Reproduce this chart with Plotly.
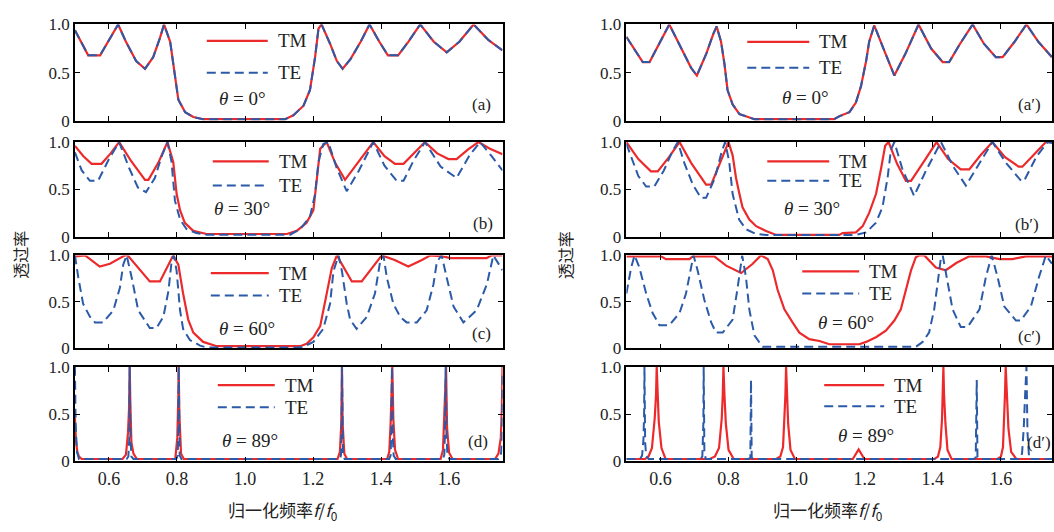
import plotly.graph_objects as go

# ---------------- data ----------------
# (a) theta = 0  (TM and TE coincide)
xa = [0.500,0.520,0.539,0.574,0.600,0.627,0.650,0.680,0.706,0.730,0.750,0.762,0.780,0.794,0.804,0.824,0.848,0.877,
      1.118,1.142,1.172,1.191,1.206,1.216,1.225,1.250,1.270,1.287,1.310,1.340,1.366,1.395,1.420,1.450,1.480,1.515,
      1.555,1.593,1.630,1.672,1.715,1.757]
ya = [0.94,0.80,0.68,0.68,0.84,1.00,0.82,0.62,0.54,0.66,0.86,1.00,0.82,0.49,0.22,0.09,0.04,0.017,
      0.017,0.057,0.157,0.32,0.66,0.957,1.00,0.80,0.62,0.54,0.64,0.82,1.00,0.82,0.68,0.68,0.82,1.00,
      0.82,0.71,0.82,1.00,0.84,0.73]
xa_tm, ya_tm = xa, ya
xa_te, ya_te = xa, ya

# (b) theta = 30
xb_tm = [0.500,0.525,0.549,0.578,0.605,0.630,0.665,0.706,0.716,0.745,0.772,0.789,0.799,0.809,0.823,0.848,0.887,
         1.123,1.152,1.181,1.201,1.211,1.221,1.240,1.265,1.294,1.335,1.377,1.410,1.441,1.466,1.495,1.529,1.565,
         1.598,1.622,1.655,1.686,1.720,1.757]
yb_tm = [0.96,0.85,0.77,0.77,0.88,1.00,0.80,0.60,0.60,0.78,1.00,0.79,0.45,0.28,0.146,0.06,0.027,
         0.027,0.06,0.146,0.28,0.62,0.93,1.00,0.78,0.60,0.80,1.00,0.85,0.77,0.77,0.88,1.00,0.88,
         0.82,0.82,0.92,1.00,0.93,0.87]
xb_te = [0.500,0.520,0.544,0.568,0.600,0.630,0.660,0.685,0.709,0.735,0.755,0.772,0.784,0.794,0.809,0.828,0.857,0.887,
         1.133,1.162,1.191,1.206,1.216,1.230,1.245,1.270,1.299,1.335,1.377,1.410,1.446,1.466,1.495,1.529,1.575,
         1.622,1.660,1.691,1.725,1.757]
yb_te = [0.89,0.70,0.59,0.59,0.82,1.00,0.72,0.52,0.47,0.62,0.85,1.00,0.79,0.38,0.18,0.08,0.037,0.02,
         0.02,0.078,0.21,0.45,0.79,0.98,1.00,0.72,0.48,0.70,1.00,0.75,0.59,0.59,0.80,1.00,0.74,
         0.62,0.86,1.00,0.85,0.70]

# (c) theta = 60
xc_tm = [0.500,0.530,0.573,0.603,0.647,0.655,0.720,0.750,0.789,0.804,0.818,0.833,0.848,0.877,0.917,
         1.162,1.181,1.201,1.221,1.240,1.255,1.270,1.314,1.343,1.402,1.440,1.480,1.520,1.545,1.580,1.605,
         1.710,1.725,1.757]
yc_tm = [0.99,1.00,0.88,0.91,1.00,1.00,0.72,0.72,1.00,0.90,0.59,0.31,0.17,0.07,0.024,
         0.024,0.05,0.12,0.24,0.59,0.86,1.00,0.72,0.72,1.00,0.95,0.88,0.95,1.00,0.99,0.97,
         0.97,1.00,1.00]
xc_te = [0.500,0.510,0.524,0.544,0.559,0.583,0.613,0.632,0.642,0.652,0.667,0.686,0.720,0.740,0.760,0.775,0.784,
         0.791,0.799,0.809,0.818,0.838,0.868,0.887,1.162,1.181,1.201,1.230,1.250,1.260,1.275,1.285,1.299,
         1.309,1.328,1.358,1.382,1.397,1.407,1.417,1.436,1.456,1.475,1.505,1.534,1.554,1.564,1.578,1.593,
         1.613,1.642,1.681,1.711,1.730,1.757]
yc_te = [1.00,0.76,0.48,0.34,0.28,0.28,0.41,0.65,0.90,1.00,0.76,0.41,0.22,0.22,0.34,0.62,0.93,
         1.00,0.83,0.41,0.21,0.09,0.03,0.01,0.01,0.035,0.07,0.21,0.48,0.83,1.00,0.83,0.48,
         0.31,0.21,0.34,0.59,0.93,1.00,0.76,0.48,0.34,0.28,0.28,0.41,0.69,0.93,1.00,0.76,
         0.45,0.28,0.41,0.69,1.00,0.84]

# (d) theta = 89
xd_tm = [0.500,0.503,0.507,0.512,0.520,0.640,0.650,0.656,0.659,0.661,0.663,0.666,0.672,0.682,
         0.795,0.801,0.804,0.805,0.807,0.812,0.820,1.272,1.279,1.283,1.285,1.287,1.292,1.300,
         1.418,1.424,1.428,1.431,1.433,1.436,1.441,1.450,1.575,1.582,1.586,1.589,1.591,1.594,1.600,1.610,
         1.735,1.745,1.752,1.755,1.757]
yd_tm = [0.46,0.22,0.10,0.05,0.024,0.024,0.07,0.30,0.55,1.00,0.60,0.20,0.08,0.024,
         0.024,0.25,0.70,1.00,0.50,0.08,0.024,0.024,0.10,0.40,1.00,0.40,0.08,0.024,
         0.024,0.10,0.40,0.70,1.00,0.45,0.12,0.024,0.024,0.12,0.45,0.75,1.00,0.35,0.09,0.024,
         0.024,0.08,0.25,0.55,1.00]
xd_te = [0.500,0.502,0.506,0.512,0.652,0.657,0.660,0.661,0.663,0.666,0.672,
         0.798,0.802,0.804,0.805,0.806,0.808,0.813,1.278,1.282,1.284,1.285,1.286,1.288,1.293,
         1.424,1.428,1.430,1.432,1.434,1.437,1.443,1.582,1.586,1.588,1.590,1.592,1.595,1.601,
         1.745,1.752,1.755,1.757]
yd_te = [1.00,0.40,0.10,0.024,0.024,0.05,0.25,1.00,0.25,0.05,0.024,
         0.024,0.06,0.30,1.00,0.30,0.06,0.024,0.024,0.06,0.30,1.00,0.25,0.06,0.024,
         0.024,0.06,0.30,1.00,0.30,0.06,0.024,0.024,0.07,0.35,1.00,0.30,0.06,0.024,
         0.024,0.05,0.20,0.92]

# (a') theta = 0
xa2 = [0.500,0.525,0.548,0.568,0.597,0.626,0.660,0.690,0.707,0.735,0.755,0.765,0.778,0.788,0.797,0.812,0.832,
       0.851,0.876,1.110,1.125,1.155,1.174,1.189,1.204,1.213,1.228,1.255,1.287,1.320,1.358,1.395,1.429,1.448,
       1.480,1.517,1.550,1.585,1.605,1.640,1.675,1.710,1.750]
ya2 = [0.87,0.73,0.61,0.61,0.80,1.00,0.76,0.55,0.47,0.70,0.90,0.98,0.82,0.59,0.32,0.17,0.07,
       0.047,0.017,0.017,0.047,0.09,0.19,0.36,0.62,0.82,0.99,0.75,0.47,0.70,1.00,0.75,0.61,0.61,
       0.80,1.00,0.80,0.66,0.66,0.82,1.00,0.82,0.66]
xa2_tm, ya2_tm = xa2, ya2
xa2_te, ya2_te = xa2, ya2

# (b') theta = 30
xb2_tm = [0.500,0.535,0.572,0.592,0.625,0.656,0.690,0.734,0.749,0.775,0.800,0.812,0.822,0.832,0.841,0.861,0.881,
          0.910,0.940,1.125,1.135,1.174,1.194,1.213,1.233,1.248,1.260,1.270,1.295,1.321,1.336,1.375,1.411,
          1.445,1.482,1.507,1.540,1.575,1.612,1.652,1.663,1.700,1.732,1.750]
yb2_tm = [1.00,0.82,0.69,0.69,0.84,1.00,0.78,0.55,0.55,0.77,1.00,0.86,0.62,0.45,0.31,0.18,0.11,
          0.06,0.017,0.017,0.037,0.044,0.11,0.25,0.45,0.72,0.96,1.00,0.77,0.59,0.59,0.80,1.00,
          0.82,0.71,0.71,0.86,1.00,0.84,0.74,0.74,0.88,1.00,1.00]
xb2_te = [0.500,0.520,0.535,0.558,0.582,0.610,0.635,0.651,0.670,0.695,0.719,0.734,0.760,0.780,0.790,0.802,0.812,
          0.831,0.851,0.881,0.910,1.174,1.204,1.233,1.252,1.267,1.277,1.287,1.310,1.345,1.380,1.424,1.460,
          1.497,1.535,1.575,1.615,1.659,1.668,1.705,1.737,1.750]
yb2_te = [0.98,0.78,0.64,0.53,0.53,0.70,0.90,1.00,0.78,0.55,0.41,0.41,0.62,0.90,1.00,0.79,0.45,
          0.18,0.078,0.027,0.017,0.017,0.044,0.146,0.31,0.62,0.92,1.00,0.72,0.43,0.70,1.00,0.74,
          0.54,0.76,1.00,0.78,0.59,0.59,0.85,1.00,0.99]

# (c') theta = 60
xc2_tm = [0.500,0.602,0.616,0.685,0.695,0.758,0.793,0.837,0.871,0.895,0.915,0.930,0.944,0.964,0.988,1.008,
          1.037,1.067,1.096,1.184,1.204,1.233,1.262,1.287,1.306,1.321,1.336,1.350,1.360,1.375,1.390,1.409,
          1.438,1.470,1.507,1.556,1.596,1.634,1.673,1.750]
yc2_tm = [0.99,0.99,0.96,0.96,0.99,0.99,0.89,0.81,0.91,1.00,0.96,0.84,0.63,0.42,0.28,0.17,
          0.10,0.08,0.045,0.045,0.07,0.12,0.19,0.30,0.42,0.63,0.84,0.98,1.00,1.00,0.94,0.87,
          0.84,0.92,0.99,0.99,0.96,0.96,0.99,0.99]
xc2_te = [0.500,0.514,0.524,0.538,0.558,0.577,0.597,0.626,0.656,0.675,0.690,0.697,0.709,0.729,0.749,0.763,
          0.783,0.812,0.827,0.840,0.851,0.861,0.876,0.900,1.350,1.370,1.389,1.404,1.414,1.424,1.429,1.443,
          1.458,1.482,1.502,1.537,1.556,1.573,1.590,1.610,1.644,1.658,1.688,1.712,1.732,1.750]
yc2_te = [0.59,0.87,1.00,0.87,0.59,0.38,0.25,0.25,0.38,0.59,0.87,1.00,0.84,0.52,0.28,0.17,
          0.17,0.31,0.66,1.00,0.77,0.42,0.14,0.017,0.017,0.07,0.17,0.42,0.70,0.98,1.00,0.70,
          0.42,0.23,0.23,0.42,0.77,1.00,0.77,0.45,0.30,0.30,0.45,0.77,1.00,0.91]

# (d') theta = 89
xd2_tm = [0.500,0.555,0.565,0.575,0.583,0.587,0.589,0.591,0.595,0.603,0.615,
          0.745,0.760,0.772,0.780,0.783,0.785,0.788,0.792,0.800,0.815,
          0.940,0.952,0.960,0.965,0.967,0.969,0.971,0.975,0.982,0.995,
          1.165,1.182,1.199,
          1.405,1.415,1.422,1.427,1.429,1.431,1.433,1.437,1.443,1.455,
          1.590,1.600,1.606,1.610,1.612,1.614,1.617,1.622,1.630,1.645,1.750]
yd2_tm = [0.024,0.024,0.05,0.14,0.45,0.70,1.00,0.70,0.42,0.14,0.024,
          0.024,0.05,0.14,0.45,0.70,1.00,0.70,0.40,0.12,0.024,
          0.024,0.05,0.15,0.45,0.70,1.00,0.70,0.40,0.12,0.024,
          0.024,0.125,0.024,
          0.024,0.05,0.15,0.45,0.70,1.00,0.70,0.40,0.12,0.024,
          0.024,0.05,0.15,0.45,0.72,1.00,0.70,0.35,0.10,0.024,0.024]
xd2_te = [0.500,0.540,0.546,0.550,0.552,0.553,0.555,0.558,0.565,
          0.718,0.723,0.726,0.727,0.729,0.733,
          0.858,0.864,0.866,0.868,0.872,
          1.520,1.526,1.529,1.531,1.536,
          1.655,1.662,1.667,1.671,1.675,1.678,1.683,1.750]
yd2_te = [0.024,0.024,0.06,0.22,0.50,1.00,0.20,0.06,0.024,
          0.024,0.05,0.40,1.00,0.10,0.024,
          0.024,0.04,0.86,0.04,0.024,
          0.024,0.04,0.86,0.05,0.024,
          0.024,0.08,0.35,0.70,1.00,0.30,0.024,0.024]

panels = [
    (xa_tm, ya_tm, xa_te, ya_te, "0", "(a)"),
    (xb_tm, yb_tm, xb_te, yb_te, "30", "(b)"),
    (xc_tm, yc_tm, xc_te, yc_te, "60", "(c)"),
    (xd_tm, yd_tm, xd_te, yd_te, "89", "(d)"),
    (xa2_tm, ya2_tm, xa2_te, ya2_te, "0", "(a′)"),
    (xb2_tm, yb2_tm, xb2_te, yb2_te, "30", "(b′)"),
    (xc2_tm, yc2_tm, xc2_te, yc2_te, "60", "(c′)"),
    (xd2_tm, yd2_tm, xd2_te, yd2_te, "89", "(d′)"),
]
x_ticks = [0.6, 0.8, 1.0, 1.2, 1.4, 1.6]
x_tick_text = ["0.6", "0.8", "1.0", "1.2", "1.4", "1.6"]
y_ticks = [0, 0.5, 1.0]
y_tick_text = ["0", "0.5", "1.0"]

# ---------------- layout geometry (pixels) ----------------
W, H = 1054, 532
RED = "#ec2a2c"
BLUE = "#2b5aa8"
SERIF = "Liberation Serif"
CJK = "Noto Sans CJK SC"
TXT = "#222222"

col_x = [(75, 503), (627, 1053)]
col_range = [[0.5, 1.757], [0.5, 1.75]]
rows_y = [(16, 116), (138, 236), (255.5, 352), (371, 469)]

def px(xp):
    return xp / W

def py(yp):
    return 1 - yp / H

fig = go.Figure()
layout = dict(width=W, height=H, margin=dict(l=0, r=0, t=0, b=0),
              paper_bgcolor="white", plot_bgcolor="white", showlegend=False,
              font=dict(family=SERIF, color=TXT, size=17))
annotations = []
shapes = []

# legend / label positions (pixels): (line x0, x1, tm y, te y, theta x, theta y, label x, label y)
pos = [
    (207, 268, 33, 66, 243, 93, 482, 99),
    (213, 269, 158, 183, 242, 207, 483, 222),
    (211, 269, 274, 297, 247, 331, 482, 336),
    (218, 275, 390, 413, 250, 447, 478, 448),
    (748, 810, 34, 61, 806, 92, 1030, 99),
    (768, 830, 158, 178, 813, 207, 1028, 223),
    (803, 860, 272, 295, 847, 325, 1030, 340),
    (825, 885, 390, 412, 867, 442, 1040, 450),
]

for i, (xtm, ytm, xte, yte, ang, lab) in enumerate(panels):
    col = i // 4
    row = i % 4
    n = i + 1
    xa_name = "x" if n == 1 else f"x{n}"
    ya_name = "y" if n == 1 else f"y{n}"
    fig.add_trace(go.Scatter(x=xtm, y=ytm, mode="lines", xaxis=xa_name, yaxis=ya_name,
                             line=dict(color=RED, width=2.2)))
    fig.add_trace(go.Scatter(x=xte, y=yte, mode="lines", xaxis=xa_name, yaxis=ya_name,
                             line=dict(color=BLUE, width=2.0, dash="9px,5px")))
    x0, x1 = col_x[col]
    y0, y1 = rows_y[row]
    key_x = "xaxis" if n == 1 else f"xaxis{n}"
    key_y = "yaxis" if n == 1 else f"yaxis{n}"
    layout[key_x] = dict(domain=[px(x0), px(x1)], range=col_range[col], anchor=ya_name,
                         tickvals=x_ticks, ticktext=x_tick_text, showticklabels=(row == 3),
                         ticks="inside", ticklen=5, tickwidth=1.2, tickcolor="black",
                         showline=True, linecolor="black", linewidth=1.5, mirror="allticks",
                         showgrid=False, zeroline=False,
                         tickfont=dict(family=SERIF, size=18, color=TXT))
    layout[key_y] = dict(domain=[py(y1), py(y0)], range=[0, 1.0], anchor=xa_name,
                         tickvals=y_ticks, ticktext=y_tick_text,
                         ticks="inside", ticklen=5, tickwidth=1.2, tickcolor="black",
                         showline=True, linecolor="black", linewidth=1.5, mirror="allticks",
                         showgrid=False, zeroline=False,
                         tickfont=dict(family=SERIF, size=17, color=TXT))
    lx0, lx1, tmy, tey, thx, thy, lbx, lby = pos[i]
    shapes.append(dict(type="line", xref="paper", yref="paper", x0=px(lx0), x1=px(lx1),
                       y0=py(tmy), y1=py(tmy), line=dict(color=RED, width=2.2)))
    shapes.append(dict(type="line", xref="paper", yref="paper", x0=px(lx0), x1=px(lx1),
                       y0=py(tey), y1=py(tey), line=dict(color=BLUE, width=2.0, dash="9px,5px")))
    annotations.append(dict(text="TM", x=px(lx1 + 8), y=py(tmy), xref="paper", yref="paper",
                            xanchor="left", yanchor="middle", showarrow=False,
                            font=dict(family=SERIF, size=19, color=TXT)))
    annotations.append(dict(text="TE", x=px(lx1 + 8), y=py(tey), xref="paper", yref="paper",
                            xanchor="left", yanchor="middle", showarrow=False,
                            font=dict(family=SERIF, size=19, color=TXT)))
    annotations.append(dict(text=f"<i>θ</i> = {ang}°", x=px(thx), y=py(thy), xref="paper", yref="paper",
                            xanchor="center", yanchor="middle", showarrow=False,
                            font=dict(family=SERIF, size=19, color=TXT)))
    annotations.append(dict(text=lab, x=px(lbx), y=py(lby), xref="paper", yref="paper",
                            xanchor="center", yanchor="middle", showarrow=False,
                            font=dict(family=SERIF, size=17, color=TXT)))

# axis titles
for cx in (20, 565):
    annotations.append(dict(text="透过率", x=px(cx), y=py(255), xref="paper", yref="paper",
                            textangle=-90, showarrow=False, xanchor="center", yanchor="middle",
                            font=dict(family=CJK, size=16, color=TXT)))
for cx in (283, 828):
    annotations.append(dict(text="归一化频率<i>f</i>/<i>f</i><sub>0</sub>", x=px(cx), y=py(520),
                            xref="paper", yref="paper", showarrow=False, xanchor="center",
                            yanchor="middle", font=dict(family=CJK, size=17, color=TXT)))

layout["annotations"] = annotations
layout["shapes"] = shapes
fig.update_layout(**layout)
fig.write_html("out.html")
